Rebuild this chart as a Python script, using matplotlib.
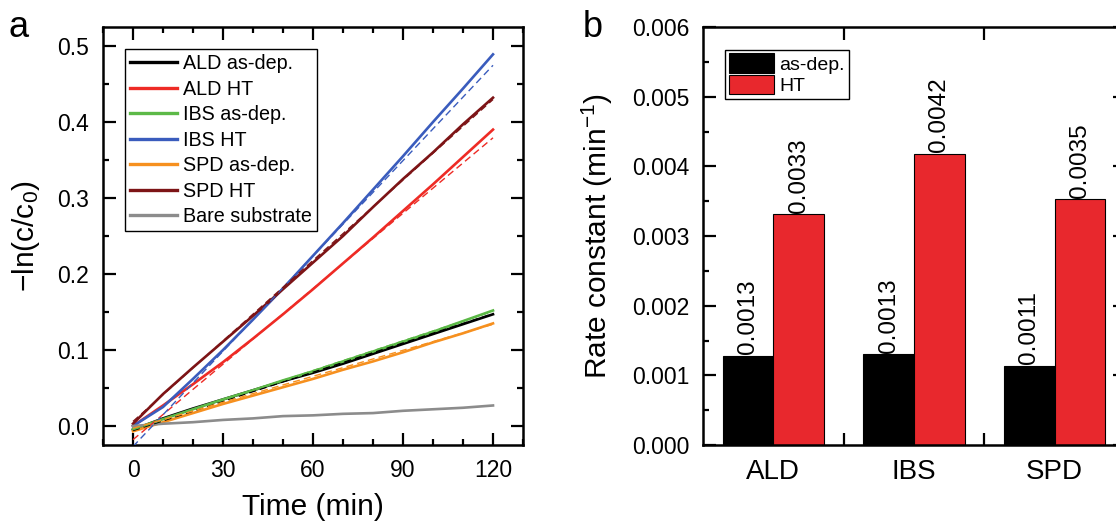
import numpy as np
import matplotlib
matplotlib.use("Agg")
import matplotlib.pyplot as plt
from matplotlib.ticker import MultipleLocator, FixedLocator

plt.rcParams['font.family'] = ['Liberation Sans', 'DejaVu Sans']
plt.rcParams['mathtext.fontset'] = 'custom'
plt.rcParams['mathtext.rm'] = 'Liberation Sans'
plt.rcParams['mathtext.it'] = 'Liberation Sans:italic'

# ---- panel a: kinetics, -ln(c/c0) vs time ----
time_min = [0, 10, 20, 30, 40, 50, 60, 70, 80, 90, 100, 110, 120]
ald_asdep = [-0.005, 0.010, 0.023, 0.035, 0.047, 0.059, 0.070, 0.082, 0.095, 0.108, 0.121, 0.134, 0.147]
ald_ht = [0.000, 0.027, 0.055, 0.084, 0.115, 0.147, 0.180, 0.214, 0.248, 0.283, 0.318, 0.354, 0.390]
ibs_asdep = [-0.004, 0.009, 0.022, 0.035, 0.047, 0.060, 0.072, 0.085, 0.098, 0.111, 0.124, 0.138, 0.152]
ibs_ht = [0.000, 0.025, 0.062, 0.100, 0.140, 0.181, 0.224, 0.267, 0.311, 0.355, 0.400, 0.444, 0.489]
spd_asdep = [-0.007, 0.005, 0.017, 0.029, 0.040, 0.051, 0.062, 0.074, 0.085, 0.097, 0.110, 0.122, 0.135]
spd_ht = [0.003, 0.042, 0.077, 0.111, 0.145, 0.180, 0.215, 0.250, 0.288, 0.325, 0.360, 0.397, 0.432]
bare = [0.000, 0.003, 0.005, 0.008, 0.010, 0.013, 0.014, 0.016, 0.017, 0.020, 0.022, 0.024, 0.027]

series_labels = ['ALD as-dep.', 'ALD HT', 'IBS as-dep.', 'IBS HT', 'SPD as-dep.', 'SPD HT', 'Bare substrate']
series_colors = ['#000000', '#ee2b25', '#5cb947', '#3a5cbd', '#f6901f', '#7d1416', '#8c8c8c']

# linear fit intercepts (slopes = rate constants of panel b)
fit_intercepts = [-0.006, -0.018, -0.005, -0.027, -0.003, 0.006]

# ---- panel b: rate constants ----
groups = ['ALD', 'IBS', 'SPD']
k_asdep = [0.00128, 0.00130, 0.00114]
k_ht = [0.00331, 0.00418, 0.00353]

W, H = 1116, 531
fig = plt.figure(figsize=(W / 100, H / 100), dpi=100)

ax1 = fig.add_axes([103 / W, 86 / H, 420 / W, 418 / H])
ax2 = fig.add_axes([703 / W, 86 / H, 422 / W, 418 / H])

# panel a
curves = [ald_asdep, ald_ht, ibs_asdep, ibs_ht, spd_asdep, spd_ht, bare]
slopes = [k_asdep[0], k_ht[0], k_asdep[1], k_ht[1], k_asdep[2], k_ht[2]]
t = np.array(time_min)
for y, lab, c in zip(curves, series_labels, series_colors):
    ax1.plot(t, y, color=c, lw=1.9, label=lab, zorder=3)
for i in range(6):
    ax1.plot(t, fit_intercepts[i] + slopes[i] * t, color=series_colors[i],
             lw=1.0, ls=(0, (5, 3)), zorder=4)

ax1.set_xlim(-10, 130)
ax1.set_ylim(-0.025, 0.525)
ax1.xaxis.set_major_locator(MultipleLocator(30))
ax1.xaxis.set_minor_locator(MultipleLocator(10))
ax1.yaxis.set_major_locator(MultipleLocator(0.1))
ax1.yaxis.set_minor_locator(MultipleLocator(0.05))
ax1.yaxis.set_major_formatter(matplotlib.ticker.FormatStrFormatter('%.1f'))
ax1.set_xlabel('Time (min)', fontsize=21.5, labelpad=8)
ax1.set_ylabel('\u2212ln(c/c$_\\mathregular{0}$)', fontsize=21.5)
ax1.yaxis.set_label_coords(-0.145, 0.5)

leg = ax1.legend(loc='upper left', bbox_to_anchor=(0.052, 0.947), fontsize=14.2,
                 frameon=True, fancybox=False, framealpha=1, edgecolor='black',
                 handlelength=2.4, handletextpad=0.3, labelspacing=0.33,
                 borderpad=0.25, borderaxespad=0)
leg.get_frame().set_linewidth(1.0)
for h in leg.get_lines():
    h.set_linewidth(2.4)

# panel b
x = np.arange(len(groups))
bw = 0.36
b1 = ax2.bar(x - bw / 2, k_asdep, bw, color='black', edgecolor='black', lw=0.8, label='as-dep.')
b2 = ax2.bar(x + bw / 2, k_ht, bw, color='#e8282d', edgecolor='black', lw=0.8, label='HT')
ax2.bar_label(b1, fmt='%.4f', rotation=90, padding=1, fontsize=17.5)
ax2.bar_label(b2, fmt='%.4f', rotation=90, padding=1, fontsize=17.5)

ax2.set_xlim(-0.5, 2.5)
ax2.set_ylim(0, 0.006)
ax2.set_xticks(x)
ax2.set_xticklabels(groups, fontsize=20)
ax2.xaxis.set_minor_locator(FixedLocator([0.5, 1.5, 2.5]))
ax2.yaxis.set_major_locator(MultipleLocator(0.001))
ax2.yaxis.set_minor_locator(MultipleLocator(0.0005))
ax2.yaxis.set_major_formatter(matplotlib.ticker.FormatStrFormatter('%.3f'))
ax2.set_ylabel('Rate constant (min$^{\\mathregular{\u22121}}$)', fontsize=21.5)
ax2.yaxis.set_label_coords(-0.209, 0.5)

leg2 = ax2.legend(loc='upper left', bbox_to_anchor=(0.052, 0.946), fontsize=14,
                  frameon=True, fancybox=False, framealpha=1, edgecolor='black',
                  handlelength=2.3, handleheight=1.15, handletextpad=0.3,
                  labelspacing=0.05, borderpad=0.2, borderaxespad=0)
leg2.get_frame().set_linewidth(1.0)

for ax in (ax1, ax2):
    for s in ax.spines.values():
        s.set_linewidth(1.8)
    ax.tick_params(which='both', direction='in', top=True, right=True, width=1.6)
    ax.tick_params(which='major', length=9, labelsize=16.5, pad=10)
    ax.tick_params(which='minor', length=4.5)

ax2.tick_params(axis='x', which='major', length=0, labelsize=20, pad=10)
ax2.tick_params(axis='x', which='minor', length=9)

fig.text(9 / W, 1 - 37 / H, 'a', fontsize=26, va='baseline', ha='left')
fig.text(583 / W, 1 - 37 / H, 'b', fontsize=26, va='baseline', ha='left')

fig.savefig('out.png', dpi=100)
